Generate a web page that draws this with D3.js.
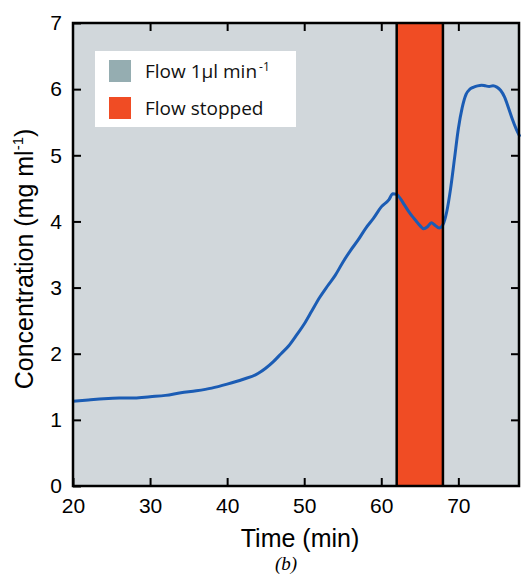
<!DOCTYPE html>
<html>
<head>
<meta charset="utf-8">
<script src="https://cdn.jsdelivr.net/npm/d3@7"></script>
<style>
  body { margin: 0; background: #fff; }
  svg { display: block; }
</style>
</head>
<body>
<svg id="chart" width="521" height="575"></svg>
<script>
// time in minutes, concentration in mg/ml
const time = [20, 22, 24, 26, 28, 30, 32, 34, 36, 38, 40, 42, 44, 45, 46, 47, 48, 49, 50, 51,
  52, 53, 54, 55, 56, 57, 58, 59, 60, 61, 61.5, 62, 62.5, 63, 63.5, 64, 64.5, 65, 65.5, 66,
  66.5, 67, 67.5, 68, 68.5, 69, 69.5, 70, 70.5, 71, 71.5, 72, 72.5, 73, 73.5, 74, 74.5, 75,
  75.5, 76, 76.5, 77, 77.5, 78];
const concentration = [1.28, 1.30, 1.32, 1.33, 1.33, 1.35, 1.37, 1.41, 1.44, 1.48, 1.54, 1.61, 1.70, 1.78, 1.88, 2.00, 2.12, 2.28, 2.45, 2.65,
  2.85, 3.02, 3.18, 3.38, 3.56, 3.72, 3.90, 4.05, 4.22, 4.33, 4.42, 4.41, 4.34, 4.25, 4.16, 4.08, 4.01, 3.94, 3.89, 3.92,
  3.98, 3.94, 3.90, 3.95, 4.15, 4.50, 4.95, 5.40, 5.72, 5.92, 6.00, 6.03, 6.05, 6.06, 6.05, 6.04, 6.05, 6.03,
  5.98, 5.88, 5.72, 5.55, 5.40, 5.28];
const stopped = [62, 68];
const xTicks = [20, 30, 40, 50, 60, 70];
const yTicks = [0, 1, 2, 3, 4, 5, 6, 7];
const legendItems = [
  { label: "Flow 1\u00b5l min", sup: "-1", color: "#95adb1" },
  { label: "Flow stopped", sup: "", color: "#f04c24" }
];

const svg = d3.select("#chart");
const margin = { top: 23, right: 1, bottom: 89, left: 73 };
const W = 521, H = 575;

const x = d3.scaleLinear().domain([20, 78]).range([margin.left, W - margin.right]);
const y = d3.scaleLinear().domain([0, 7]).range([H - margin.bottom, margin.top]);

// plot background
svg.append("rect")
  .attr("x", x(20)).attr("y", y(7))
  .attr("width", x(78) - x(20)).attr("height", y(0) - y(7))
  .attr("fill", "#d1d7db");

// flow stopped band
svg.append("rect")
  .attr("x", x(stopped[0])).attr("y", y(7))
  .attr("width", x(stopped[1]) - x(stopped[0])).attr("height", y(0) - y(7))
  .attr("fill", "#f04c24");

// data line
const line = d3.line().x((d, i) => x(time[i])).y(d => y(d)).curve(d3.curveMonotoneX);
svg.append("path")
  .datum(concentration)
  .attr("d", line)
  .attr("fill", "none")
  .attr("stroke", "#1b5cb4")
  .attr("stroke-width", 3)
  .attr("stroke-linejoin", "round");

// band borders
svg.selectAll("line.band")
  .data(stopped)
  .enter().append("line")
  .attr("class", "band")
  .attr("x1", d => x(d)).attr("x2", d => x(d))
  .attr("y1", y(0)).attr("y2", y(7))
  .attr("stroke", "#000").attr("stroke-width", 2.5);

// axes, ticks pointing inward on all four sides
const tickLen = 8;
const axisFont = "'Liberation Sans', Arial, sans-serif";
const fmt = d3.format("d");

svg.append("g")
  .attr("transform", `translate(0,${y(0)})`)
  .call(d3.axisBottom(x).tickValues(xTicks).tickFormat(fmt).tickSizeInner(-tickLen).tickSizeOuter(0).tickPadding(12))
  .call(g => g.select(".domain").remove())
  .call(g => g.selectAll("line").attr("stroke-width", 2))
  .call(g => g.selectAll("text").attr("font-size", 21).attr("font-family", axisFont).attr("fill", "#000"));

svg.append("g")
  .attr("transform", `translate(0,${y(7)})`)
  .call(d3.axisTop(x).tickValues(xTicks.slice(1)).tickSizeInner(-tickLen).tickSizeOuter(0).tickFormat(""))
  .call(g => g.select(".domain").remove())
  .call(g => g.selectAll("line").attr("stroke-width", 2));

svg.append("g")
  .attr("transform", `translate(${x(20)},0)`)
  .call(d3.axisLeft(y).tickValues(yTicks).tickFormat(fmt).tickSizeInner(-tickLen).tickSizeOuter(0).tickPadding(11))
  .call(g => g.select(".domain").remove())
  .call(g => g.selectAll("line").attr("stroke-width", 2))
  .call(g => g.selectAll("text").attr("font-size", 21).attr("font-family", axisFont).attr("fill", "#000"));

svg.append("g")
  .attr("transform", `translate(${x(78) - 1},0)`)
  .call(d3.axisRight(y).tickValues(yTicks.slice(1, -1)).tickSizeInner(-tickLen).tickSizeOuter(0).tickFormat(""))
  .call(g => g.select(".domain").remove())
  .call(g => g.selectAll("line").attr("stroke-width", 2));

// frame
svg.append("rect")
  .attr("x", x(20)).attr("y", y(7))
  .attr("width", x(78) - x(20) - 1).attr("height", y(0) - y(7))
  .attr("fill", "none").attr("stroke", "#000").attr("stroke-width", 2.5);

// legend
const legend = svg.append("g").attr("transform", "translate(95,51)");
legend.append("rect").attr("width", 201).attr("height", 76).attr("fill", "#fff");
const item = legend.selectAll("g.item")
  .data(legendItems)
  .enter().append("g")
  .attr("class", "item")
  .attr("transform", (d, i) => `translate(14,${9 + i * 37})`);
item.append("rect").attr("width", 22).attr("height", 22).attr("fill", d => d.color);
const lt = item.append("text")
  .attr("x", 36).attr("y", 18)
  .attr("font-family", "'Open Sans', Lato, sans-serif")
  .attr("font-size", 19)
  .attr("fill", "#111")
  .text(d => d.label);
lt.append("tspan")
  .attr("dy", -7).attr("dx", 2)
  .attr("font-size", 12)
  .text(d => d.sup);

// axis titles
svg.append("text")
  .attr("x", 300).attr("y", 547)
  .attr("text-anchor", "middle")
  .attr("font-family", axisFont).attr("font-size", 25)
  .text("Time (min)");

const yl = svg.append("text")
  .attr("transform", `translate(33,259) rotate(-90)`)
  .attr("text-anchor", "middle")
  .attr("font-family", axisFont).attr("font-size", 25)
  .text("Concentration (mg ml");
yl.append("tspan").attr("dy", -10).attr("font-size", 15).text("-1");
yl.append("tspan").attr("dy", 10).text(")");

svg.append("text")
  .attr("x", 286).attr("y", 570)
  .attr("text-anchor", "middle")
  .attr("font-family", "'Liberation Serif', 'DejaVu Serif', serif")
  .attr("font-style", "italic").attr("font-size", 19)
  .text("(b)");
</script>
</body>
</html>
